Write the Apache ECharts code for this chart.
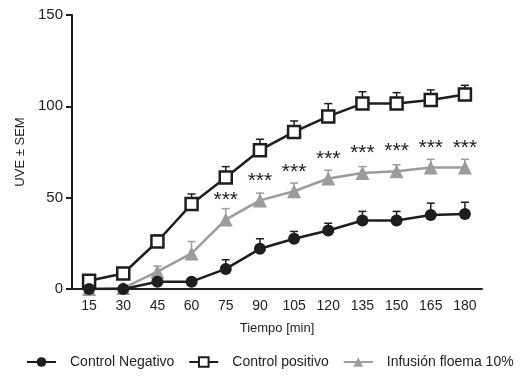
<!DOCTYPE html>
<html>
<head>
<meta charset="utf-8">
<script src="https://cdn.jsdelivr.net/npm/echarts@6/dist/echarts.min.js"></script>
<style>
  html, body { margin: 0; padding: 0; background: #fff; }
  #chart { width: 522px; height: 378px; }
</style>
</head>
<body>
<div id="chart"></div>
<script>
// tiempos (min) y medias / SEM de cada grupo
const times = ['15', '30', '45', '60', '75', '90', '105', '120', '135', '150', '165', '180'];
const negMean = [0, 0, 4, 4, 11, 22, 27.5, 32, 37.5, 37.5, 40.5, 41];
const negErr = [0, 0, 1, 1, 5, 5.5, 4, 4, 5, 5, 6.5, 6.5];
const posMean = [4.5, 8.5, 26, 46.5, 61, 76, 86, 94.5, 101.5, 101.5, 103.5, 106.5];
const posErr = [0, 0, 3.5, 5.5, 6, 6, 6, 7, 6.5, 6, 5.5, 5];
const infMean = [0, 0.5, 9.5, 19.5, 38, 48.5, 53.5, 60.5, 63.5, 64.5, 66.5, 66.5];
const infErr = [0, 0, 3, 6.5, 6, 4, 4.5, 4.5, 3.5, 3.5, 4.5, 4.5];
const stars = ['', '', '', '', '***', '***', '***', '***', '***', '***', '***', '***'];

const BLACK = '#1e1e1e';
const GRAY = '#9c9c9c';
const FONT = 'Liberation Sans, Arial, sans-serif';

// barras de error (solo la parte superior, como en el original)
function errorSeries(mean, err, color) {
  let data = mean.map((m, i) => [i, m, m + err[i]]);
  return {
    type: 'custom',
    silent: true,
    z: 1,
    data: data,
    renderItem: function (params, api) {
      let lo = api.coord([api.value(0), api.value(1)]);
      let hi = api.coord([api.value(0), api.value(2)]);
      if (hi[1] >= lo[1] - 0.5) return null;
      let style = { stroke: color, lineWidth: 1.5 };
      return {
        type: 'group',
        children: [
          { type: 'line', shape: { x1: lo[0], y1: lo[1], x2: hi[0], y2: hi[1] }, style: style },
          { type: 'line', shape: { x1: hi[0] - 4, y1: hi[1], x2: hi[0] + 4, y2: hi[1] }, style: style }
        ]
      };
    }
  };
}

let myChart = echarts.init(document.getElementById('chart'));
let option = {
  backgroundColor: '#fff',
  animation: false,
  grid: { left: 72, right: 40, top: 15, bottom: 89 },
  legend: {
    left: 26,
    right: 0,
    top: 355,
    padding: 0,
    itemWidth: 29,
    itemHeight: 12,
    itemGap: 14,
    textStyle: { color: BLACK, fontSize: 14, fontFamily: FONT, padding: [0, 0, 0, 9] },
    data: ['Control Negativo', 'Control positivo', 'Infusión floema 10%']
  },
  xAxis: {
    type: 'category',
    data: times,
    boundaryGap: true,
    name: 'Tiempo [min]',
    nameLocation: 'middle',
    nameGap: 33,
    nameTextStyle: { color: BLACK, fontSize: 13, fontFamily: FONT },
    axisLine: { lineStyle: { color: BLACK, width: 2 } },
    axisTick: { alignWithLabel: true, length: 6, lineStyle: { color: BLACK, width: 2 } },
    axisLabel: { color: BLACK, fontSize: 14, fontFamily: FONT, margin: 10 }
  },
  yAxis: {
    type: 'value',
    min: 0,
    max: 150,
    interval: 50,
    name: 'UVE ± SEM',
    nameLocation: 'middle',
    nameGap: 45,
    nameTextStyle: { color: BLACK, fontSize: 13, fontFamily: FONT },
    axisLine: { show: true, lineStyle: { color: BLACK, width: 2 } },
    axisTick: { show: true, length: 6, lineStyle: { color: BLACK, width: 2 } },
    axisLabel: { color: BLACK, fontSize: 15, fontFamily: FONT, margin: 9 },
    splitLine: { show: false }
  },
  series: [
    errorSeries(posMean, posErr, BLACK),
    errorSeries(infMean, infErr, GRAY),
    errorSeries(negMean, negErr, BLACK),
    {
      name: 'Infusión floema 10%',
      type: 'line',
      data: infMean,
      z: 3,
      symbol: 'triangle',
      symbolSize: 14,
      itemStyle: { color: GRAY },
      lineStyle: { color: GRAY, width: 2.5 },
      label: {
        show: true,
        position: 'top',
        distance: 2,
        color: BLACK,
        fontSize: 21,
        fontFamily: FONT,
        formatter: function (p) { return stars[p.dataIndex]; }
      }
    },
    {
      name: 'Control positivo',
      type: 'line',
      data: posMean,
      z: 4,
      symbol: 'rect',
      symbolSize: 12,
      itemStyle: { color: '#fff', borderColor: BLACK, borderWidth: 2.5 },
      lineStyle: { color: BLACK, width: 2.5 }
    },
    {
      name: 'Control Negativo',
      type: 'line',
      data: negMean,
      z: 5,
      symbol: 'circle',
      symbolSize: 12,
      itemStyle: { color: BLACK },
      lineStyle: { color: BLACK, width: 2.5 }
    }
  ]
};
myChart.setOption(option);
</script>
</body>
</html>
